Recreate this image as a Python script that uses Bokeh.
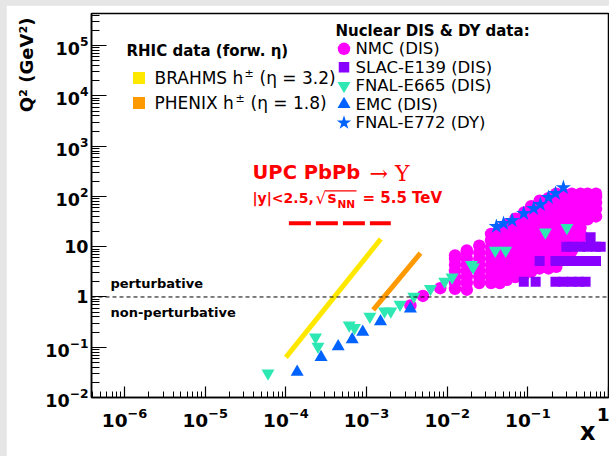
import re

from bokeh.plotting import figure
from bokeh.models import Range1d, Span, Label, Title
from bokeh.embed import file_html
from bokeh.resources import INLINE

# ---------------- data ----------------
# NMC (DIS): one list of Q^2 values per x bin
nmc_x_bins = [0.0035, 0.005, 0.0082, 0.0125, 0.0175, 0.025, 0.035, 0.045, 0.055,
              0.07, 0.09, 0.11, 0.14, 0.18, 0.225, 0.275, 0.35, 0.45, 0.55, 0.7]
nmc_q2 = [
    [0.68],
    [1.05],
    [1.5],
    [1.45, 1.9, 2.5, 3.3, 4.4, 5.8, 6.7],
    [1.4, 1.9, 2.5, 3.3, 4.4, 5.8, 7.7, 8.4],
    [1.9, 2.5, 3.3, 4.4, 5.8, 7.7, 10.5],
    [1.9, 2.5, 3.3, 4.4, 5.8, 7.7, 10.0, 13.5, 18.0],
    [1.9, 2.5, 3.3, 4.4, 5.8, 7.7, 10.0, 13.5, 18.0, 22.0],
    [2.2, 3.3, 4.4, 5.8, 7.7, 10.0, 13.5, 18.0, 24.0, 28.0],
    [2.5, 3.3, 4.4, 5.8, 7.7, 10.0, 13.5, 18.0, 24.0, 32.0, 36.0],
    [2.8, 3.3, 4.4, 5.8, 7.7, 10.0, 13.5, 18.0, 24.0, 32.0, 42.0, 48.0],
    [3.2, 4.4, 5.8, 7.7, 10.0, 13.5, 18.0, 24.0, 32.0, 42.0, 56.0, 64.0],
    [3.7, 4.4, 5.8, 7.7, 10.0, 13.5, 18.0, 24.0, 32.0, 42.0, 56.0, 74.0, 82.0],
    [3.7, 4.4, 5.8, 7.7, 10.0, 13.5, 18.0, 24.0, 32.0, 42.0, 56.0, 74.0, 92.0],
    [4.0, 5.8, 7.7, 10.0, 13.5, 18.0, 24.0, 32.0, 42.0, 56.0, 74.0, 98.0, 113.0],
    [5.5, 7.7, 10.0, 13.5, 18.0, 24.0, 32.0, 42.0, 56.0, 74.0, 98.0, 113.0],
    [8.3, 10.0, 13.5, 18.0, 24.0, 32.0, 42.0, 56.0, 74.0, 98.0, 113.0],
    [15.0, 18.0, 24.0, 32.0, 42.0, 56.0, 74.0, 98.0, 113.0],
    [35.0, 42.0, 56.0, 74.0, 98.0, 113.0],
    [40.0, 56.0, 74.0, 98.0, 113.0],
]

# SLAC-E139 (DIS)
slac_x = [0.089, 0.125, 0.22, 0.275, 0.35, 0.43, 0.52,
          0.14, 0.22, 0.275, 0.35, 0.45, 0.55, 0.7,
          0.3, 0.35, 0.45, 0.55, 0.7, 0.8,
          0.6]
slac_q2 = [2.0, 2.0, 2.0, 2.0, 2.0, 2.0, 2.0,
           5.2, 5.2, 5.2, 5.2, 5.2, 5.2, 5.2,
           10.0, 10.0, 10.0, 10.0, 10.0, 10.0,
           15.5]

# FNAL-E665 (DIS)
e665_x = [6.0e-5, 2.33e-4, 2.5e-4, 6.1e-4, 7.1e-4, 1.1e-3, 1.67e-3, 2.0e-3, 2.6e-3,
          3.85e-3, 6.2e-3, 9.3e-3, 1.15e-2, 2.0e-2, 2.1e-2, 3.95e-2, 5.3e-2, 0.165, 0.305]
e665_q2 = [0.0305, 0.158, 0.104, 0.275, 0.244, 0.41, 0.52, 0.52, 0.71,
           1.02, 1.46, 2.03, 2.48, 4.4, 3.9, 8.4, 8.4, 19.5, 23.8]

# EMC (DIS)
emc_x = [1.38e-4, 2.73e-4, 4.45e-4, 6.64e-4, 8.97e-4, 1.49e-3, 3.5e-3]
emc_q2 = [0.032, 0.063, 0.104, 0.143, 0.2, 0.325, 0.58]

# FNAL-E772 (DY)
e772_x = [0.0407, 0.05, 0.0638, 0.089, 0.118, 0.143, 0.18, 0.22, 0.276]
e772_q2 = [25.3, 29.0, 33.3, 45.9, 57.7, 69.3, 95.5, 115.0, 150.0]

# RHIC forward hadron coverage (end points of the bands)
brahms_x = [1.0e-4, 1.5e-3]
brahms_q2 = [0.063, 14.2]
phenix_x = [1.21e-3, 4.66e-3]
phenix_q2 = [0.556, 7.44]

# UPC PbPb -> Upsilon coverage
upc_x = [1.09e-4, 2.0e-3]
upc_q2 = [29.4, 29.4]

legend_names = ["NMC (DIS)", "SLAC-E139 (DIS)", "FNAL-E665 (DIS)", "EMC (DIS)", "FNAL-E772 (DY)"]

# ---------------- styles ----------------
MAGENTA = "#ff00ff"
PURPLE = "#8a00ff"
MINT = "#2ee8b4"
BLUE = "#0062ff"
YELLOW = "#ffe800"
ORANGE = "#ff9900"
RED = "#ff0000"

X_LOG = (-6.41, 0.0)
Y_LOG = (-2.0, 5.64)

# page-pixel geometry of the plotting frame (figure placed at 6, 5)
OFF_X, OFF_Y = 6, 5
FRAME_L, FRAME_R, FRAME_T, FRAME_B = 91, 608, 13, 397
BOTTOM_BORDER = 72
FIG_W = 609 - OFF_X
FIG_H = (FRAME_B - OFF_Y) + BOTTOM_BORDER

p = figure(width=FIG_W, height=FIG_H,
           x_axis_type="log", y_axis_type="log",
           x_range=Range1d(10 ** X_LOG[0], 10 ** X_LOG[1]),
           y_range=Range1d(10 ** Y_LOG[0], 10 ** Y_LOG[1]),
           output_backend="svg", toolbar_location=None,
           min_border_left=FRAME_L - OFF_X, min_border_right=609 - FRAME_R,
           min_border_top=FRAME_T - OFF_Y, min_border_bottom=BOTTOM_BORDER)
p.grid.visible = False
p.background_fill_color = "white"
p.border_fill_color = "white"
p.outline_line_color = "black"
p.outline_line_width = 1.5

for ax in (p.xaxis[0], p.yaxis[0]):
    ax.axis_line_width = 1.5
    ax.major_tick_out = 0
    ax.minor_tick_out = 0
    ax.major_tick_line_width = 1.2
    ax.minor_tick_line_width = 1.0
    ax.major_label_text_font = "DejaVu Sans"
    ax.major_label_text_font_style = "bold"
    ax.major_label_text_color = "black"

p.xaxis.major_label_text_font_size = "18.5px"
p.xaxis.major_tick_in = 11
p.xaxis.minor_tick_in = 6
p.xaxis.major_label_standoff = 10
p.xaxis.major_label_overrides = {1: "1"}
p.yaxis.major_label_text_font_size = "17.5px"
p.yaxis.major_tick_in = 15
p.yaxis.minor_tick_in = 8
p.yaxis.major_label_standoff = 3
p.yaxis.major_label_overrides = {1: "1", 10: "10"}

# axis titles sit at the far ends of the axes
p.add_layout(Title(text="Q\u00b2 (GeV\u00b2)", align="right", standoff=12, offset=4,
                   text_font="DejaVu Sans", text_font_style="bold",
                   text_font_size="18px", text_color="black"), "left")
p.add_layout(Title(text="x", align="right", standoff=-28, offset=13,
                   text_font="DejaVu Sans", text_font_style="bold",
                   text_font_size="24px", text_color="black"), "below")


def at(px, py):
    """Page pixel position -> data coordinates on the log axes."""
    lx = X_LOG[0] + (px - FRAME_L) / (FRAME_R - FRAME_L) * (X_LOG[1] - X_LOG[0])
    ly = Y_LOG[0] + (FRAME_B - py) / (FRAME_B - FRAME_T) * (Y_LOG[1] - Y_LOG[0])
    return 10 ** lx, 10 ** ly


def text(px, py, s, size, bold=False, color="black", font="DejaVu Sans",
         align="left", baseline="middle"):
    x, y = at(px, py)
    p.add_layout(Label(x=x, y=y, text=s, text_font=font,
                       text_font_size=f"{size}px",
                       text_font_style="bold" if bold else "normal",
                       text_color=color, text_align=align,
                       text_baseline=baseline))


# perturbative / non-perturbative boundary
p.add_layout(Span(location=1.0, dimension="width", line_color="black",
                  line_width=1, line_dash="4 3"))

# RHIC bands and UPC coverage
p.line(brahms_x, brahms_q2, line_color=YELLOW, line_width=5)
p.line(phenix_x, phenix_q2, line_color=ORANGE, line_width=5)
p.line(upc_x, upc_q2, line_color=RED, line_width=4, line_dash="22 5")

# nuclear DIS & DY data
nmc_x = [x for x, qs in zip(nmc_x_bins, nmc_q2) for _ in qs]
nmc_y = [q for qs in nmc_q2 for q in qs]
p.scatter(nmc_x, nmc_y, marker="circle", size=12.5, fill_color=MAGENTA, line_color=None)
p.scatter(slac_x, slac_q2, marker="square", size=10, fill_color=PURPLE, line_color=None)
p.scatter(e665_x, e665_q2, marker="inverted_triangle", size=13, fill_color=MINT, line_color=None)
p.scatter(emc_x, emc_q2, marker="triangle", size=13, fill_color=BLUE, line_color=None)
p.scatter(e772_x, e772_q2, marker="star", size=16, fill_color=BLUE, line_color=None)

# ---------------- legends ----------------
text(335, 30.5, "Nuclear DIS & DY data:", 15, bold=True)
leg_markers = ["circle", "square", "inverted_triangle", "triangle", "star"]
leg_colors = [MAGENTA, PURPLE, MINT, BLUE, BLUE]
leg_sizes = [12.5, 10.5, 13, 13, 15]
for i, (name, mk, col, sz) in enumerate(zip(legend_names, leg_markers, leg_colors, leg_sizes)):
    row_y = 48.3 + 18.5 * i
    mx, my = at(343.5, row_y)
    p.scatter([mx], [my], marker=mk, size=sz, fill_color=col, line_color=None)
    text(355, row_y, name, 16.5)

text(126, 50, "RHIC data (forw. \u03b7)", 15, bold=True)
for row_y, col, name, pm_x, eta in [(77.5, YELLOW, "BRAHMS h", 244, "(\u03b7 = 3.2)"),
                                     (102.5, ORANGE, "PHENIX h", 235, "(\u03b7 = 1.8)")]:
    sx, sy = at(138.5, row_y)
    p.scatter([sx], [sy], marker="square", size=12, fill_color=col, line_color=None)
    text(154, row_y, name, 17)
    text(pm_x, row_y - 4.5, "\u00b1", 11)
    text(pm_x + 15, row_y, eta, 17)

# UPC annotation
text(252, 171.5, "UPC PbPb", 19.5, bold=True, color=RED)
text(369, 172.5, "\u2192 \u03a5", 22, color=RED, font="DejaVu Serif")
text(252, 197, "|y|<2.5,", 14, bold=True, color=RED)
text(315, 197, "\u221a", 17, color=RED, font="DejaVu Serif")
text(327, 197, "s", 15, bold=True, color=RED)
text(337, 203, "NN", 10.5, bold=True, color=RED)
text(362, 197, "= 5.5 TeV", 15, bold=True, color=RED)
bx0, by0 = at(325, 190.3)
bx1, _ = at(356, 190.3)
p.line([bx0, bx1], [by0, by0], line_color=RED, line_width=1.2)

# regime labels
text(110, 282.7, "perturbative", 13, bold=True)
text(110, 312.3, "non-perturbative", 13, bold=True)

html = file_html(p, INLINE, title="Nuclear DIS and DY coverage")
page_css = ("<style>html,body{margin:0;padding:0;background:#e6e6e6;overflow:hidden;}"
            "body{padding:5px 0 0 6px;}</style>")
html = html.replace("</head>", page_css + "</head>", 1)
html = re.sub(r"<body[^>]*>",
              '<body style="margin:0;padding:5px 0 0 6px;background:#e6e6e6;overflow:hidden;">',
              html, count=1)
open("out.html", "w").write(html)
